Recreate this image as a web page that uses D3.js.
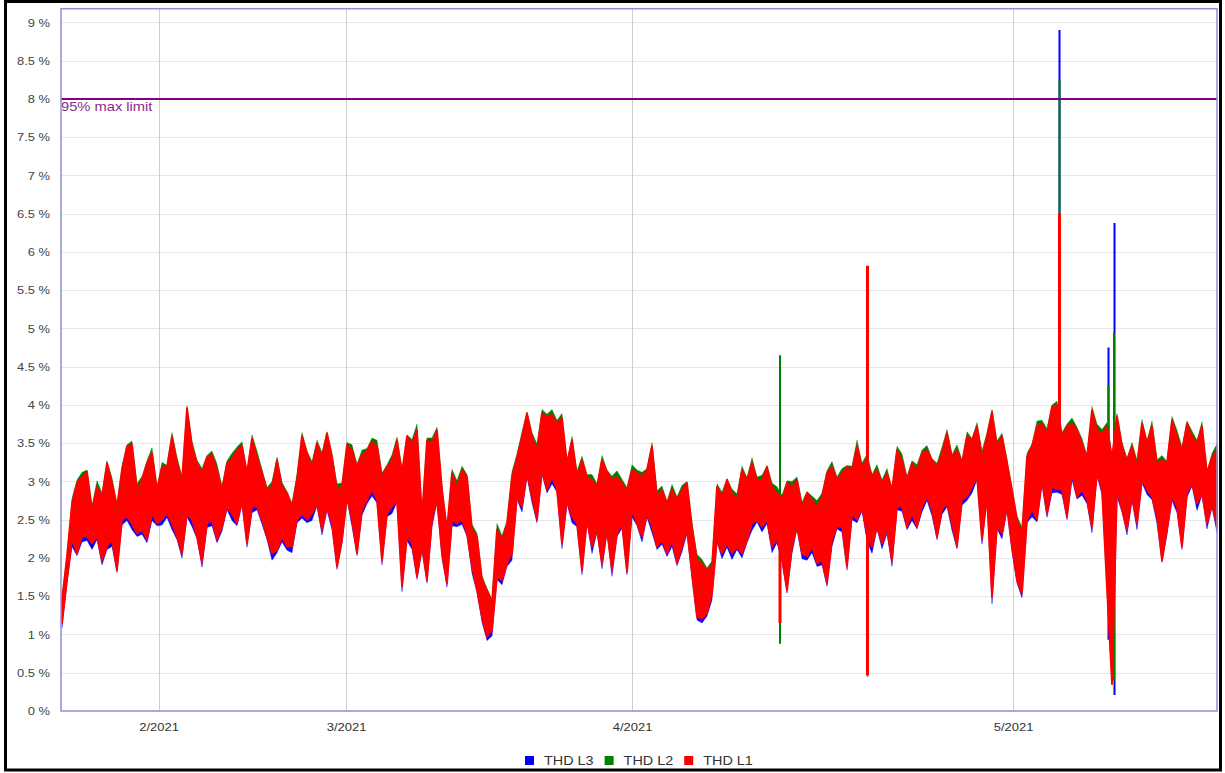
<!DOCTYPE html>
<html>
<head>
<meta charset="utf-8">
<script src="https://cdn.jsdelivr.net/npm/d3@7"></script>
<style>
  body { margin: 0; background: #fff; }
  svg { display: block; font-family: "Liberation Sans", Arial, sans-serif; }
</style>
</head>
<body>
<div id="chart"></div>
<script>
// THD per phase, binned: max / min of each bin (one bin ~ 5px of the original plot)
const l1Max = [
  1.45,2.02,2.71,2.98,3.06,3.13,2.63,2.93,2.80,3.24,2.98,2.67,3.15,3.46,3.48,2.89,3.02,3.24,3.37,2.89,3.19,3.19,3.59,3.24,3.02,3.96,3.46,3.24,3.11,3.32,3.35,3.15,2.89,3.24,3.30,3.41,3.46,3.11,3.56,3.32,3.11,2.89,2.93,3.28,2.93,2.85,2.67,3.02,3.59,3.37,3.19,3.50,3.32,3.63,3.32,2.89,2.93,3.48,3.41,
  3.19,3.35,3.41,3.52,3.46,3.06,3.19,3.28,3.54,3.11,3.59,3.50,3.67,2.54,3.54,3.50,3.67,2.89,2.37,3.11,2.93,3.15,3.06,2.37,2.28,1.71,1.58,1.41,2.37,2.24,2.45,3.06,3.32,3.59,3.89,3.59,3.41,3.89,3.85,3.87,3.76,3.83,3.24,3.54,3.06,3.28,3.06,3.02,2.93,3.28,3.13,3.02,3.06,2.98,2.89,3.15,3.11,3.06,3.15,
  3.46,2.80,2.89,2.71,2.89,2.76,2.89,2.98,2.41,1.97,1.93,1.84,1.89,2.93,2.80,3.02,2.85,2.76,3.15,3.02,3.24,3.02,3.02,3.19,2.93,2.85,2.76,2.98,2.93,3.02,2.67,2.85,2.76,2.67,2.80,3.11,3.19,3.02,3.11,3.19,3.15,3.46,3.19,3.30,3.06,3.15,2.98,3.11,2.89,3.41,3.28,3.02,3.24,3.15,3.37,3.41,3.28,
  3.19,3.37,3.63,3.32,3.41,3.24,3.59,3.54,3.72,3.32,3.59,3.91,3.46,3.59,3.24,2.89,2.50,2.32,3.32,3.46,3.72,3.76,3.63,3.98,4.00,3.59,3.72,3.76,3.67,3.50,3.32,3.93,3.67,3.63,3.72,3.30,3.85,3.46,3.28,3.46,3.20,3.76,3.50,3.72,3.24,3.28,3.24,3.80,3.59,3.40,3.76,3.59,3.50,3.72,3.11,3.32,3.41
];
const l1Min = [
  1.15,1.71,2.24,2.06,2.28,2.28,2.19,2.28,1.97,2.15,2.24,1.84,2.50,2.54,2.45,2.32,2.37,2.24,2.58,2.45,2.50,2.58,2.45,2.28,2.06,2.58,2.50,2.28,1.95,2.45,2.50,2.24,2.41,2.67,2.58,2.45,2.76,2.19,2.67,2.67,2.50,2.28,2.06,2.10,2.28,2.15,2.15,2.50,2.58,2.50,2.58,2.71,2.37,2.67,2.45,1.89,2.24,2.80,2.50,
  2.06,2.63,2.76,2.89,2.76,1.97,2.58,2.67,2.76,1.63,2.28,2.19,1.76,2.15,1.71,2.50,2.76,2.06,1.67,2.50,2.45,2.50,2.32,1.89,1.58,1.23,0.97,1.06,1.76,1.71,1.93,2.06,2.80,2.67,3.11,2.80,2.50,3.15,2.89,3.06,2.89,2.19,2.76,2.54,2.45,1.84,2.50,2.15,2.37,1.93,2.37,1.84,2.32,2.45,1.82,2.63,2.45,2.28,2.58,
  2.41,2.15,2.24,2.06,2.24,1.93,2.15,2.37,1.80,1.23,1.21,1.28,1.54,2.24,2.06,2.19,2.06,2.15,2.06,2.24,2.45,2.50,2.41,2.50,2.15,2.24,2.00,1.58,2.15,2.41,2.06,2.02,2.15,1.93,1.97,1.67,2.24,2.41,2.41,1.89,2.58,2.50,2.67,2.30,2.15,2.41,2.19,2.37,1.97,2.67,2.67,2.41,2.58,2.41,2.67,2.80,2.63,
  2.28,2.63,2.71,2.45,2.15,2.76,2.80,2.93,3.06,2.24,2.80,1.49,2.41,2.32,2.67,2.15,1.71,1.54,2.50,2.63,2.50,3.02,2.58,2.93,2.90,2.89,2.54,3.11,2.80,2.89,2.76,2.41,3.11,2.89,1.60,0.35,2.89,2.63,2.37,2.80,2.45,3.02,2.89,2.80,2.54,1.97,2.37,2.80,2.67,2.15,2.85,2.98,2.71,2.85,2.45,2.71,2.41
];
const l2Max = [
  1.50,2.05,2.78,3.02,3.12,3.15,2.68,3.01,2.85,3.27,3.05,2.71,3.21,3.48,3.53,2.97,3.07,3.27,3.44,2.93,3.25,3.21,3.64,3.32,3.07,3.99,3.53,3.28,3.17,3.34,3.40,3.23,2.94,3.27,3.37,3.45,3.52,3.13,3.61,3.40,3.16,2.92,3.00,3.32,2.99,2.87,2.72,3.10,3.64,3.40,3.26,3.54,3.38,3.65,3.37,2.97,2.98,3.51,3.48,
  3.23,3.41,3.43,3.57,3.54,3.11,3.22,3.35,3.58,3.17,3.61,3.55,3.75,2.59,3.57,3.57,3.71,2.95,2.39,3.16,3.01,3.20,3.09,2.44,2.32,1.77,1.60,1.46,2.45,2.29,2.48,3.13,3.36,3.65,3.91,3.64,3.49,3.94,3.88,3.94,3.80,3.89,3.26,3.59,3.14,3.33,3.09,3.09,2.97,3.34,3.15,3.07,3.14,3.03,2.92,3.22,3.15,3.12,3.17,
  3.51,2.88,2.94,2.74,2.96,2.80,2.95,3.00,2.46,2.05,1.98,1.87,1.96,2.97,2.86,3.04,2.90,2.84,3.20,3.05,3.31,3.06,3.08,3.21,2.98,2.93,2.82,3.01,3.00,3.06,2.73,2.87,2.81,2.75,2.85,3.14,3.26,3.06,3.17,3.21,3.20,3.54,3.24,3.36,3.09,3.22,3.02,3.17,2.91,3.46,3.36,3.07,3.27,3.22,3.41,3.47,3.30,
  3.24,3.45,3.68,3.35,3.48,3.28,3.65,3.56,3.77,3.40,3.64,3.94,3.53,3.63,3.30,2.91,2.55,2.40,3.37,3.49,3.79,3.80,3.69,4.00,4.05,3.64,3.75,3.83,3.71,3.56,3.34,3.98,3.75,3.68,3.77,3.35,3.89,3.52,3.30,3.51,3.28,3.81,3.53,3.79,3.28,3.34,3.26,3.85,3.67,3.45,3.79,3.66,3.54,3.78,3.13,3.37,3.49
];
const l2Min = [
  1.22,1.78,2.31,2.13,2.35,2.35,2.26,2.35,2.04,2.22,2.31,1.91,2.57,2.61,2.52,2.39,2.44,2.31,2.65,2.52,2.57,2.65,2.52,2.35,2.13,2.65,2.57,2.35,2.02,2.52,2.57,2.31,2.48,2.74,2.65,2.52,2.83,2.26,2.74,2.74,2.57,2.35,2.13,2.17,2.35,2.22,2.22,2.57,2.65,2.57,2.65,2.78,2.44,2.74,2.52,1.96,2.31,2.87,2.57,
  2.13,2.70,2.83,2.96,2.83,2.04,2.65,2.74,2.83,1.70,2.35,2.26,1.83,2.22,1.78,2.57,2.83,2.13,1.74,2.57,2.52,2.57,2.39,1.96,1.65,1.30,1.04,1.13,1.83,1.78,2.00,2.13,2.87,2.74,3.18,2.87,2.57,3.22,2.96,3.13,2.96,2.26,2.83,2.61,2.52,1.91,2.57,2.22,2.44,2.00,2.44,1.91,2.39,2.52,1.89,2.70,2.52,2.35,2.65,
  2.48,2.22,2.31,2.13,2.31,2.00,2.22,2.44,1.87,1.30,1.28,1.35,1.61,2.31,2.13,2.26,2.13,2.22,2.13,2.31,2.52,2.57,2.48,2.57,2.22,2.31,2.07,1.65,2.22,2.48,2.13,2.09,2.22,2.00,2.04,1.74,2.31,2.48,2.48,1.96,2.65,2.57,2.74,2.37,2.22,2.48,2.26,2.44,2.04,2.74,2.74,2.48,2.65,2.48,2.74,2.87,2.70,
  2.35,2.70,2.78,2.52,2.22,2.83,2.87,3.00,3.13,2.31,2.87,1.56,2.48,2.39,2.74,2.22,1.78,1.61,2.57,2.70,2.57,3.09,2.65,3.00,2.97,2.96,2.61,3.18,2.87,2.96,2.83,2.48,3.18,2.96,1.68,0.40,2.96,2.70,2.44,2.87,2.52,3.09,2.96,2.87,2.61,2.04,2.44,2.87,2.74,2.22,2.92,3.05,2.78,2.92,2.52,2.78,2.48
];
const l3Max = [
  1.35,1.92,2.61,2.88,2.96,3.03,2.53,2.83,2.70,3.14,2.88,2.57,3.05,3.36,3.38,2.79,2.92,3.14,3.27,2.79,3.09,3.09,3.49,3.14,2.92,3.86,3.36,3.14,3.01,3.22,3.25,3.05,2.79,3.14,3.20,3.31,3.36,3.01,3.46,3.22,3.01,2.79,2.83,3.18,2.83,2.75,2.57,2.92,3.49,3.27,3.09,3.40,3.22,3.53,3.22,2.79,2.83,3.38,3.31,
  3.09,3.25,3.31,3.42,3.36,2.96,3.09,3.18,3.44,3.01,3.49,3.40,3.57,2.44,3.44,3.40,3.57,2.79,2.27,3.01,2.83,3.05,2.96,2.27,2.18,1.61,1.48,1.31,2.27,2.14,2.35,2.96,3.22,3.49,3.79,3.49,3.31,3.79,3.75,3.77,3.66,3.73,3.14,3.44,2.96,3.18,2.96,2.92,2.83,3.18,3.03,2.92,2.96,2.88,2.79,3.05,3.01,2.96,3.05,
  3.36,2.70,2.79,2.61,2.79,2.66,2.79,2.88,2.31,1.87,1.83,1.74,1.79,2.83,2.70,2.92,2.75,2.66,3.05,2.92,3.14,2.92,2.92,3.09,2.83,2.75,2.66,2.88,2.83,2.92,2.57,2.75,2.66,2.57,2.70,3.01,3.09,2.92,3.01,3.09,3.05,3.36,3.09,3.20,2.96,3.05,2.88,3.01,2.79,3.31,3.18,2.92,3.14,3.05,3.27,3.31,3.18,
  3.09,3.27,3.53,3.22,3.31,3.14,3.49,3.44,3.62,3.22,3.49,3.81,3.36,3.49,3.14,2.79,2.40,2.22,3.22,3.36,3.62,3.66,3.53,3.88,3.90,3.49,3.62,3.66,3.57,3.40,3.22,3.83,3.57,3.53,3.62,3.20,3.75,3.36,3.18,3.36,3.10,3.66,3.40,3.62,3.14,3.18,3.14,3.70,3.49,3.30,3.66,3.49,3.40,3.62,3.01,3.22,3.31
];
const l3Min = [
  1.09,1.67,2.15,2.03,2.21,2.23,2.11,2.24,1.91,2.11,2.15,1.81,2.43,2.49,2.37,2.28,2.31,2.20,2.49,2.42,2.43,2.53,2.37,2.24,2.00,2.54,2.41,2.25,1.88,2.40,2.42,2.20,2.35,2.63,2.49,2.42,2.69,2.14,2.59,2.63,2.44,2.24,1.97,2.07,2.21,2.10,2.07,2.46,2.52,2.46,2.49,2.68,2.30,2.62,2.37,1.85,2.18,2.76,2.41,
  2.03,2.56,2.71,2.81,2.72,1.91,2.54,2.58,2.73,1.56,2.23,2.11,1.72,2.09,1.67,2.41,2.73,1.99,1.62,2.42,2.41,2.44,2.28,1.80,1.55,1.16,0.92,0.98,1.72,1.65,1.89,1.97,2.77,2.60,3.06,2.72,2.46,3.09,2.85,2.97,2.86,2.12,2.71,2.46,2.41,1.78,2.46,2.06,2.34,1.86,2.32,1.76,2.28,2.39,1.78,2.54,2.42,2.21,2.53,
  2.33,2.11,2.18,2.02,2.15,1.90,2.08,2.32,1.72,1.19,1.15,1.24,1.45,2.21,1.99,2.14,1.98,2.11,2.00,2.20,2.36,2.47,2.34,2.45,2.07,2.20,1.94,1.54,2.06,2.38,1.99,1.97,2.07,1.89,1.91,1.63,2.15,2.38,2.34,1.84,2.50,2.46,2.61,2.22,2.06,2.38,2.12,2.32,1.89,2.63,2.61,2.37,2.49,2.38,2.60,2.75,2.55,
  2.24,2.57,2.67,2.36,2.12,2.69,2.75,2.85,3.02,2.18,2.76,1.40,2.38,2.25,2.62,2.07,1.67,1.48,2.46,2.54,2.47,2.95,2.53,2.85,2.86,2.83,2.50,3.02,2.77,2.82,2.71,2.33,3.07,2.83,1.62,0.37,2.80,2.60,2.30,2.75,2.37,2.98,2.83,2.76,2.45,1.94,2.30,2.75,2.59,2.11,2.79,2.94,2.62,2.82,2.38,2.66,2.33
];

// single-sample excursions (bin position, min, max)
const l1SpikePos = [143.6, 161.1, 199.5];
const l1SpikeMin = [1.15, 0.47, 3.0];
const l1SpikeMax = [2.8, 5.82, 6.5];
const l2SpikePos = [143.6, 161.1, 199.5, 209.3, 210.4];
const l2SpikeMin = [0.88, 0.45, 3.0, 1.5, 0.40];
const l2SpikeMax = [4.65, 3.4, 8.25, 4.25, 4.94];
const l3SpikePos = [161.1, 199.5, 209.3, 210.5];
const l3SpikeMin = [0.80, 3.0, 0.93, 0.21];
const l3SpikeMax = [3.2, 8.9, 4.75, 6.38];

const monthLabels = ["2/2021", "3/2021", "4/2021", "5/2021"];
const monthPos = [19.3, 56.8, 114, 190.2];
const yTickValues = [0, 0.5, 1, 1.5, 2, 2.5, 3, 3.5, 4, 4.5, 5, 5.5, 6, 6.5, 7, 7.5, 8, 8.5, 9];
const limitValue = 8;
const limitLabel = "95% max limit";

const width = 1225, height = 773;
const plot = { left: 61, right: 1217, top: 8.7, bottom: 711 };

// the source picture is a bit wider than tall, so text is stretched sideways
function stretch(sel, k) {
  sel.each(function () {
    const w = this.getComputedTextLength();
    d3.select(this).attr("textLength", w * k).attr("lengthAdjust", "spacingAndGlyphs");
  });
}

const svg = d3.select("#chart").append("svg")
  .attr("width", width)
  .attr("height", height);

svg.append("rect").attr("width", width).attr("height", height).attr("fill", "#fff");

const x = d3.scaleLinear().domain([0, l1Max.length - 1]).range([62, plot.right]);
const y = d3.scaleLinear().domain([0, 9.18]).range([plot.bottom, plot.top]);

// horizontal grid
svg.append("g").selectAll("line")
  .data(yTickValues.filter(d => d > 0))
  .enter().append("line")
  .attr("x1", plot.left).attr("x2", plot.right)
  .attr("y1", d => Math.round(y(d)) + 0.5).attr("y2", d => Math.round(y(d)) + 0.5)
  .attr("stroke", "#e6e6e6").attr("stroke-width", 1);

// vertical grid (month starts)
svg.append("g").selectAll("line")
  .data(monthPos)
  .enter().append("line")
  .attr("x1", d => Math.round(x(d)) + 0.5).attr("x2", d => Math.round(x(d)) + 0.5)
  .attr("y1", plot.top).attr("y2", plot.bottom)
  .attr("stroke", "#cfcfcf").attr("stroke-width", 1);

// series: L3 first, L1 on top
const series = [
  { name: "THD L3", color: "#0000ff", max: l3Max, min: l3Min, sPos: l3SpikePos, sMin: l3SpikeMin, sMax: l3SpikeMax, sw: 2, edge: 0.4 },
  { name: "THD L2", color: "#008000", max: l2Max, min: l2Min, sPos: l2SpikePos, sMin: l2SpikeMin, sMax: l2SpikeMax, sw: 2, edge: 0.4 },
  { name: "THD L1", color: "#ff0000", max: l1Max, min: l1Min, sPos: l1SpikePos, sMin: l1SpikeMin, sMax: l1SpikeMax, sw: 3, edge: 1.8 }
];

const area = d3.area()
  .x(d => x(d.i))
  .y0(d => y(d.lo))
  .y1(d => y(d.hi));

const plotG = svg.append("g");

series.forEach(s => {
  const rows = s.max.map((v, i) => ({ i: i, hi: v, lo: s.min[i] }));
  plotG.append("path")
    .datum(rows)
    .attr("d", area)
    .attr("fill", s.color)
    .attr("stroke", s.color)
    .attr("stroke-width", s.edge)
    .attr("stroke-linejoin", "round");

  plotG.append("g").selectAll("line")
    .data(s.sPos)
    .enter().append("line")
    .attr("x1", d => x(d)).attr("x2", d => x(d))
    .attr("y1", (d, i) => y(s.sMin[i]))
    .attr("y2", (d, i) => y(s.sMax[i]))
    .attr("stroke", s.color)
    .attr("stroke-width", s.sw);
});

// limit line
svg.append("line")
  .attr("x1", plot.left).attr("x2", plot.right)
  .attr("y1", y(limitValue)).attr("y2", y(limitValue))
  .attr("stroke", "#800080").attr("stroke-width", 2);

svg.append("text")
  .attr("x", plot.left)
  .attr("y", y(limitValue) + 12.5)
  .attr("fill", "#8b2c8b")
  .style("font-size", "13px")
  .text(limitLabel)
  .call(stretch, 1.13);

// plot frame
svg.append("rect")
  .attr("x", plot.left).attr("y", plot.top)
  .attr("width", plot.right - plot.left)
  .attr("height", plot.bottom - plot.top)
  .attr("fill", "none")
  .attr("stroke", "#8f8fd8")
  .attr("stroke-width", 1.5);

// axes
const yAxis = svg.append("g")
  .attr("transform", `translate(${plot.left},0)`)
  .call(d3.axisLeft(y).tickValues(yTickValues).tickFormat(d => d + " %").tickSize(0).tickPadding(11));
yAxis.select(".domain").remove();
yAxis.selectAll("text").style("font-size", "11px").attr("fill", "#444")
  .style("font-family", "'Liberation Sans', Arial, sans-serif")
  .call(stretch, 1.17);

const xAxis = svg.append("g")
  .attr("transform", `translate(0,${plot.bottom})`)
  .call(d3.axisBottom(x).tickValues(monthPos).tickFormat((d, i) => monthLabels[i]).tickSize(0).tickPadding(12));
xAxis.select(".domain").remove();
xAxis.selectAll("text").style("font-size", "11px").attr("fill", "#333")
  .style("font-family", "'Liberation Sans', Arial, sans-serif")
  .call(stretch, 1.18);

// legend
const legend = svg.append("g").attr("transform", "translate(525,756)");
let cx = 0;
series.forEach(s => {
  const item = legend.append("g").attr("transform", `translate(${cx},0)`);
  item.append("rect").attr("width", 9).attr("height", 9).attr("fill", s.color);
  const t = item.append("text")
    .attr("x", 19).attr("y", 9)
    .attr("fill", "#333")
    .style("font-size", "12px")
    .text(s.name);
  const w = t.node().getComputedTextLength() * 1.2;
  t.attr("textLength", w).attr("lengthAdjust", "spacingAndGlyphs");
  cx += 19 + w + 11;
});

// outer frame
svg.append("rect")
  .attr("x", 5.5).attr("y", 1.5)
  .attr("width", 1215).attr("height", 768.5)
  .attr("fill", "none")
  .attr("stroke", "#000")
  .attr("stroke-width", 3);
</script>
</body>
</html>
